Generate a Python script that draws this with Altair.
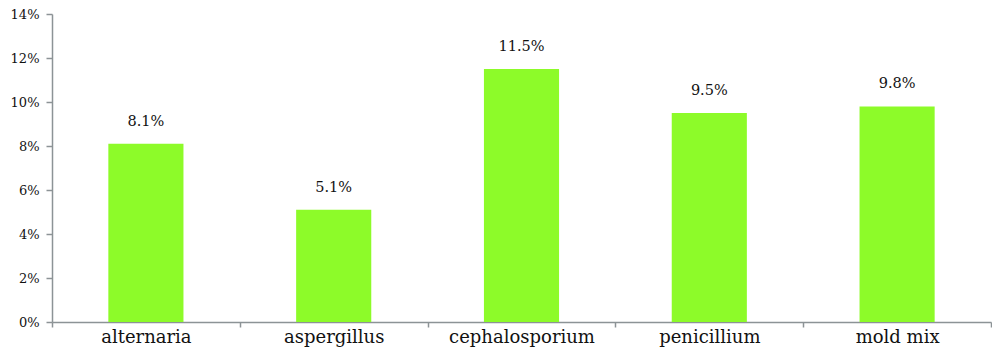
import altair as alt
import pandas as pd

categories = ["alternaria", "aspergillus", "cephalosporium", "penicillium", "mold mix"]
values = [0.081, 0.051, 0.115, 0.095, 0.098]
y_ticks = [0, 0.02, 0.04, 0.06, 0.08, 0.10, 0.12, 0.14]

df = pd.DataFrame({"cat": categories, "val": values})

FONT = "DejaVu Serif"
AXIS_COLOR = "#8C9396"
BAR_COLOR = "#8DFB29"

x = alt.X(
    "cat:N",
    sort=categories,
    scale=alt.Scale(paddingInner=0, paddingOuter=0),
    axis=alt.Axis(
        title=None,
        labelAngle=0,
        labelFont=FONT,
        labelFontSize=18,
        labelColor="#111111",
        labelPadding=1,
        tickBand="extent",
        tickSize=5,
        tickColor=AXIS_COLOR,
        domainColor=AXIS_COLOR,
        domainWidth=1.5,
        tickWidth=1.5,
        grid=False,
    ),
)
y = alt.Y(
    "val:Q",
    scale=alt.Scale(domain=[0, 0.14], nice=False),
    axis=alt.Axis(
        title=None,
        values=y_ticks,
        format=".0%",
        labelFont=FONT,
        labelFontSize=13,
        labelColor="#111111",
        labelPadding=7,
        tickSize=6,
        tickColor=AXIS_COLOR,
        domainColor=AXIS_COLOR,
        domainWidth=1.5,
        tickWidth=1.5,
        grid=False,
    ),
)

bars = alt.Chart(df).mark_bar(color=BAR_COLOR, width=alt.RelativeBandSize(0.4)).encode(x=x, y=y)
labels = alt.Chart(df).mark_text(
    font=FONT, fontSize=14.5, dy=-18, baseline="alphabetic", color="#111111"
).encode(x=x, y=y, text=alt.Text("val:Q", format=".1%"))

chart = (
    alt.layer(bars, labels)
    .properties(
        width=939,
        height=308,
        background="white",
        autosize=alt.AutoSizeParams(type="none"),
        padding={"left": 44, "top": 6, "right": 1, "bottom": 27},
    )
    .configure_view(stroke=None)
)

chart.save("out.html", embed_options={"renderer": "svg", "actions": False})
